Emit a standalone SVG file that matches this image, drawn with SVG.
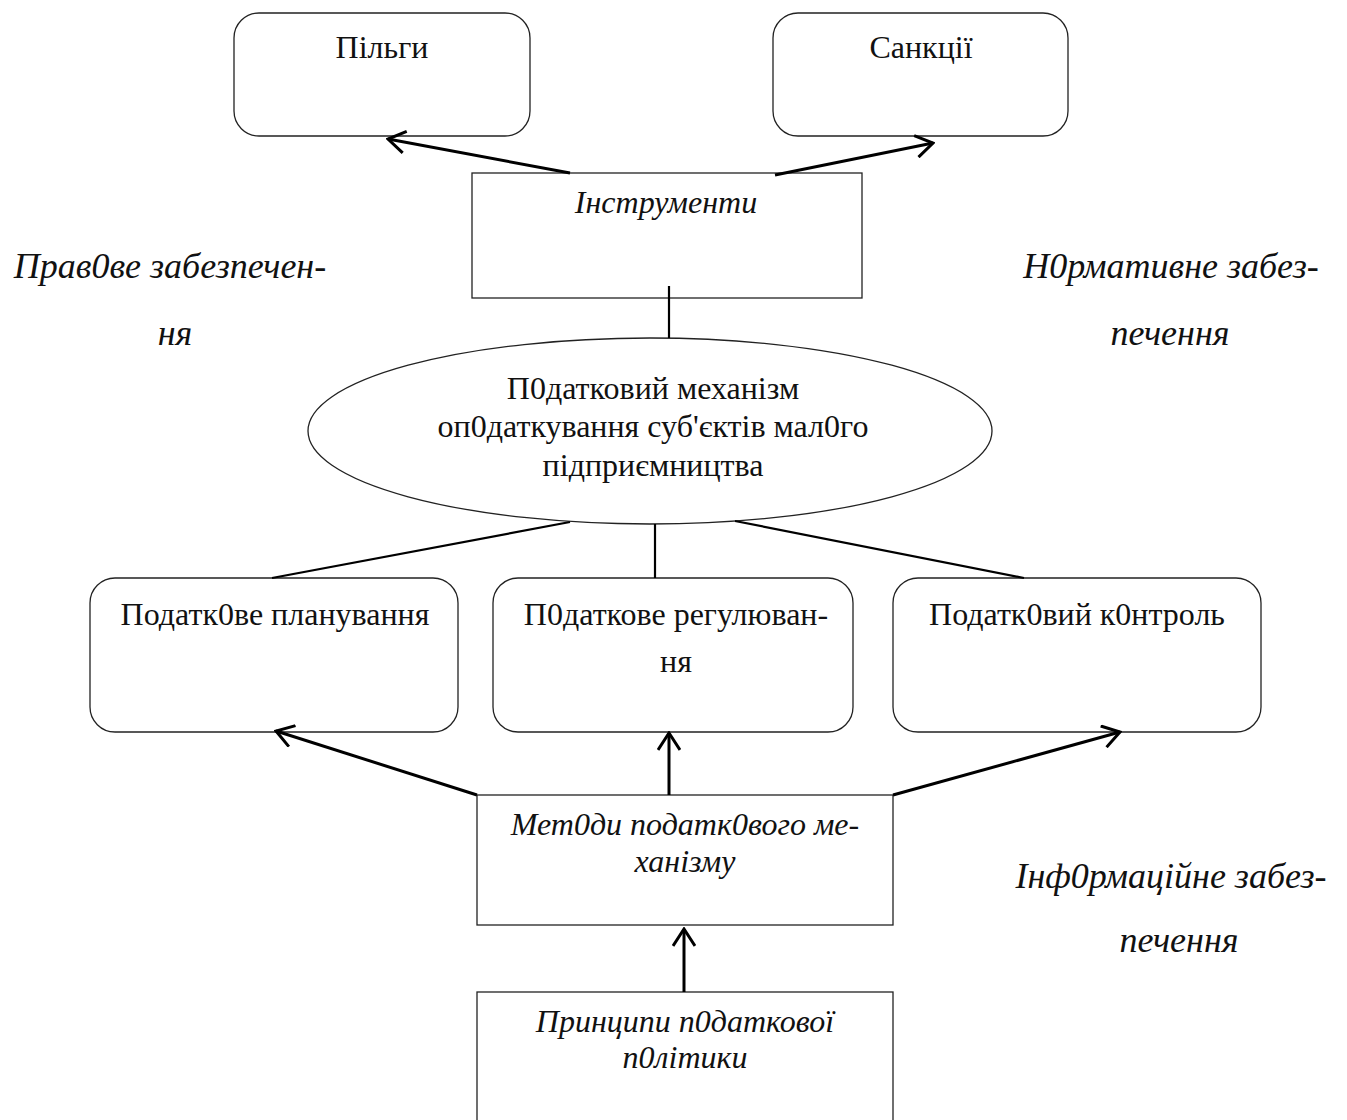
<svg xmlns="http://www.w3.org/2000/svg" width="1347" height="1120" viewBox="0 0 1347 1120">
<defs>
<style>
.box{fill:#fff;stroke:#222;stroke-width:1.3}
.c{stroke:#000;stroke-width:3;fill:none}
.l{stroke:#000;stroke-width:2.2;fill:none}
</style>
<marker id="ah" viewBox="0 0 20 24" refX="18" refY="12" markerWidth="20" markerHeight="24" markerUnits="userSpaceOnUse" orient="auto">
<path d="M1,1 L18,12 L1,23" fill="none" stroke="#000" stroke-width="3"/>
</marker>
</defs>
<rect width="1347" height="1120" fill="#fff"/>

<g font-family="Liberation Serif, Times New Roman, serif" fill="#111" text-anchor="middle">
<g id="pilgy"><rect class="box" x="234" y="13" width="296" height="123" rx="25"/><text font-size="32" x="382" y="58">Пільги</text></g>
<g id="sankcii"><rect class="box" x="773" y="13" width="295" height="123" rx="25"/><text font-size="32" x="921" y="58">Санкції</text></g>
<g id="instrumenty"><rect class="box" x="472" y="173" width="390" height="125"/><text font-size="32" font-style="italic" x="666" y="213">Інструменти</text></g>
<g id="mechanism"><ellipse class="box" cx="650" cy="431" rx="342" ry="93"/>
<text font-size="32" x="653" y="399">П0датковий механізм</text>
<text font-size="32" x="653" y="437">оп0даткування суб'єктів мал0го</text>
<text font-size="32" x="653" y="476">підприємництва</text></g>
<g id="planning"><rect class="box" x="90" y="578" width="368" height="154" rx="25"/><text font-size="32" x="275" y="625">Податк0ве планування</text></g>
<g id="regulation"><rect class="box" x="493" y="578" width="360" height="154" rx="25"/><text font-size="32" x="676" y="625">П0даткове регулюван-</text><text font-size="32" x="676" y="672">ня</text></g>
<g id="control"><rect class="box" x="893" y="578" width="368" height="154" rx="25"/><text font-size="32" x="1077" y="625">Податк0вий к0нтроль</text></g>
<g id="methods"><rect class="box" x="477" y="795" width="416" height="130"/><text font-size="32" font-style="italic" x="685" y="835">Мет0ди податк0вого ме-</text><text font-size="32" font-style="italic" x="685" y="872">ханізму</text></g>
<g id="principles"><rect class="box" x="477" y="992" width="416" height="140"/><text font-size="32" font-style="italic" x="685" y="1032">Принципи п0даткової</text><text font-size="32" font-style="italic" x="685" y="1068">п0літики</text></g>

<g id="label-legal" font-size="36" font-style="italic"><text x="170" y="278">Прав0ве забезпечен-</text><text x="175" y="345">ня</text></g>
<g id="label-normative" font-size="36" font-style="italic"><text x="1171" y="278">Н0рмативне забез-</text><text x="1170" y="345">печення</text></g>
<g id="label-info" font-size="36" font-style="italic"><text x="1171" y="888">Інф0рмаційне забез-</text><text x="1179" y="952">печення</text></g>
</g>

<g id="connectors">
<line class="c" x1="570" y1="173" x2="388" y2="139" marker-end="url(#ah)"/>
<line class="c" x1="775" y1="175" x2="933" y2="143" marker-end="url(#ah)"/>
<line class="l" x1="669" y1="286" x2="669" y2="338"/>
<line class="l" x1="272" y1="578" x2="570" y2="522"/>
<line class="l" x1="655" y1="524" x2="655" y2="578"/>
<line class="l" x1="735" y1="521" x2="1024" y2="578"/>
<line class="c" x1="477" y1="795" x2="276" y2="731" marker-end="url(#ah)"/>
<line class="c" x1="669" y1="795" x2="669" y2="733" marker-end="url(#ah)"/>
<line class="c" x1="893" y1="795" x2="1120" y2="732" marker-end="url(#ah)"/>
<line class="c" x1="684" y1="992" x2="684" y2="929" marker-end="url(#ah)"/>
</g>
</svg>
